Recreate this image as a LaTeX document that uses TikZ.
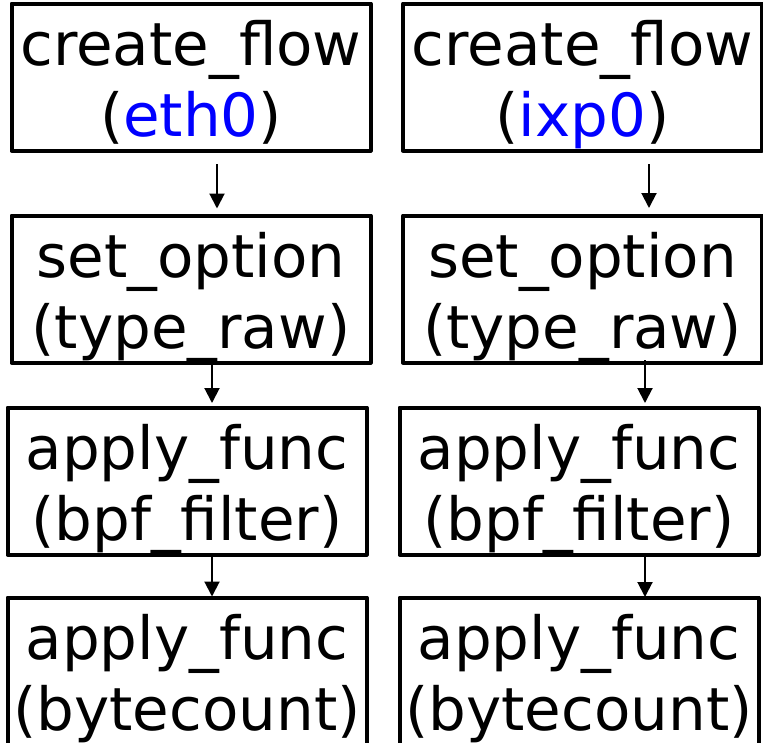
\documentclass[tikz,border=0pt]{standalone}
\usepackage{fontspec}
\setmainfont{DejaVu Sans}
\usepackage{xcolor}
\usetikzlibrary{arrows.meta,positioning,calc}

\begin{document}
\begin{tikzpicture}[x=1pt,y=-1pt,
  call/.style={draw,line width=4pt,line join=round,minimum width=359pt,minimum height=147pt,inner sep=0pt},
  lbl/.style={font=\fontsize{59.5}{71}\selectfont,align=center,inner sep=0pt,anchor=base},
  flow/.style={-{Triangle[length=15pt,width=15pt]},line width=2pt}]
  \useasboundingbox (0,0) rectangle (763,742);
  % left column: eth0
  \node[call] (l1) at (191,77) {};
  \node[call] (l2) at (191,289) {};
  \node[call] (l3) at (187,481) {};
  \node[call] (l4) at (187,671) {};
  % right column: ixp0
  \node[call] (r1) at (582.5,77) {};
  \node[call] (r2) at (582.5,289) {};
  \node[call] (r3) at (579,481) {};
  \node[call] (r4) at (579,671) {};
  % texts (base = baseline of the second line)
  \node[lbl] (l1t) at ([yshift=-135pt]l1.north) {create\_flow\\(\textcolor{blue}{eth0})};
  \node[lbl] (l2t) at ([yshift=-135pt]l2.north) {set\_option\\(type\_raw)};
  \node[lbl] (l3t) at ([yshift=-135pt]l3.north) {apply\_func\\(bpf\_filter)};
  \node[lbl] (l4t) at ([yshift=-135pt]l4.north) {apply\_func\\(bytecount)};
  \node[lbl] (r1t) at ([yshift=-135pt]r1.north) {create\_flow\\(\textcolor{blue}{ixp0})};
  \node[lbl] (r2t) at ([yshift=-135pt]r2.north) {set\_option\\(type\_raw)};
  \node[lbl] (r3t) at ([yshift=-135pt]r3.north) {apply\_func\\(bpf\_filter)};
  \node[lbl] (r4t) at ([yshift=-135pt]r4.north) {apply\_func\\(bytecount)};
  % arrows
  \draw[flow] ([xshift=26pt,yshift=-11.5pt]l1.south) -- ([xshift=26pt,yshift=5pt]l2.north);
  \draw[flow] ([xshift=21pt,yshift=5.5pt]l2.south) -- ([xshift=25pt,yshift=2.5pt]l3.north);
  \draw[flow] ([xshift=25pt,yshift=2.5pt]l3.south) -- ([xshift=25pt,yshift=-1pt]l4.north);
  \draw[flow] ([xshift=66.5pt,yshift=-11.5pt]r1.south) -- ([xshift=66.5pt,yshift=5.5pt]r2.north);
  \draw[flow] ([xshift=62.5pt,yshift=4.5pt]r2.south) -- ([xshift=66pt,yshift=2.5pt]r3.north);
  \draw[flow] ([xshift=66pt,yshift=2.5pt]r3.south) -- ([xshift=66pt,yshift=-1.5pt]r4.north);
\end{tikzpicture}
\end{document}
